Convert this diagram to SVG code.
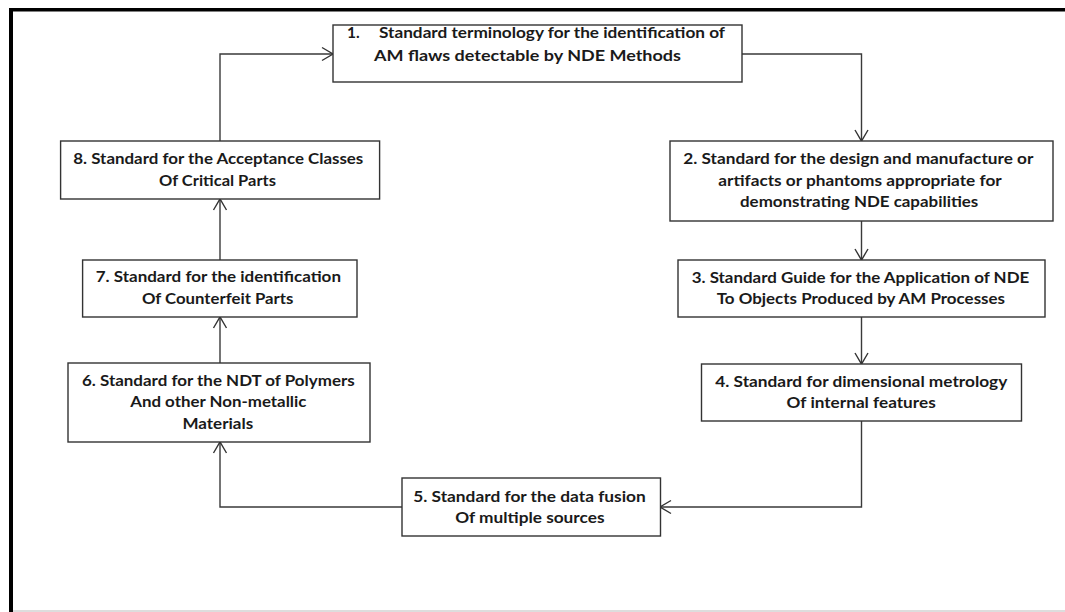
<svg xmlns="http://www.w3.org/2000/svg" width="1065" height="612" viewBox="0 0 1065 612">
<style>
.box{fill:#fff;stroke:#333;stroke-width:1.4}
.t{font-family:Lato,"Liberation Sans",sans-serif;font-weight:bold;font-size:15.5px;fill:#1a1a1a}
.c{fill:none;stroke:#3a3a3a;stroke-width:1.4}
</style>
<defs>
<marker id="ah" markerUnits="userSpaceOnUse" markerWidth="16" markerHeight="16" viewBox="-12 -8 14 16" refX="0" refY="0" orient="auto">
<path d="M-11,-6.5 L0,0 L-11,6.5" fill="none" stroke="#333" stroke-width="1.4"/>
</marker>
</defs>
<rect width="1065" height="612" fill="#fff"/>
<g id="frame">
<line x1="9" y1="9.8" x2="1065" y2="9.8" stroke="#000" stroke-width="3.6"/>
<line x1="11" y1="8" x2="11" y2="612" stroke="#000" stroke-width="4"/>
<line x1="13" y1="611" x2="1065" y2="611" stroke="#bbb" stroke-width="1.2"/>
</g>
<g id="connectors">
<path class="c" d="M220,141 V54 H333" marker-end="url(#ah)"/>
<path class="c" d="M742,54 H861.5 V141" marker-end="url(#ah)"/>
<path class="c" d="M861.5,221 V260" marker-end="url(#ah)"/>
<path class="c" d="M861.5,317 V364" marker-end="url(#ah)"/>
<path class="c" d="M861.5,421 V507 H660" marker-end="url(#ah)"/>
<path class="c" d="M402,507 H220 V442" marker-end="url(#ah)"/>
<path class="c" d="M220,363 V317" marker-end="url(#ah)"/>
<path class="c" d="M220,260 V199" marker-end="url(#ah)"/>
</g>
<g id="n1">
<rect class="box" x="333" y="25" width="409" height="57"/>
<text class="t"><tspan x="347" y="38">1.</tspan><tspan x="379" y="38" textLength="346" lengthAdjust="spacingAndGlyphs">Standard terminology for the identification of</tspan><tspan x="374" y="60.5" textLength="307" lengthAdjust="spacingAndGlyphs">AM flaws detectable by NDE Methods</tspan></text>
</g>
<g id="n2">
<rect class="box" x="670" y="141" width="383" height="80"/>
<text class="t"><tspan x="683.3" y="164.3" textLength="350" lengthAdjust="spacingAndGlyphs">2. Standard for the design and manufacture or</tspan><tspan x="718.3" y="185.8" textLength="283.4" lengthAdjust="spacingAndGlyphs">artifacts or phantoms appropriate for</tspan><tspan x="740" y="207.3" textLength="238.3" lengthAdjust="spacingAndGlyphs">demonstrating NDE capabilities</tspan></text>
</g>
<g id="n3">
<rect class="box" x="678" y="260" width="367" height="57"/>
<text class="t"><tspan x="691.7" y="282.7" textLength="337.6" lengthAdjust="spacingAndGlyphs">3. Standard Guide for the Application of NDE</tspan><tspan x="716.7" y="304.3" textLength="288.3" lengthAdjust="spacingAndGlyphs">To Objects Produced by AM Processes</tspan></text>
</g>
<g id="n4">
<rect class="box" x="701.5" y="364" width="320" height="57"/>
<text class="t"><tspan x="715.3" y="386.7" textLength="292" lengthAdjust="spacingAndGlyphs">4. Standard for dimensional metrology</tspan><tspan x="786.6" y="408.3" textLength="149.1" lengthAdjust="spacingAndGlyphs">Of internal features</tspan></text>
</g>
<g id="n5">
<rect class="box" x="402" y="478" width="258.5" height="58"/>
<text class="t"><tspan x="413.2" y="501.7" textLength="232.6" lengthAdjust="spacingAndGlyphs">5. Standard for the data fusion</tspan><tspan x="455.2" y="523.3" textLength="149.3" lengthAdjust="spacingAndGlyphs">Of multiple sources</tspan></text>
</g>
<g id="n6">
<rect class="box" x="68" y="363" width="302" height="79"/>
<text class="t"><tspan x="82" y="385.7" textLength="272.7" lengthAdjust="spacingAndGlyphs">6. Standard for the NDT of Polymers</tspan><tspan x="130.2" y="407.3" textLength="176.3" lengthAdjust="spacingAndGlyphs">And other Non-metallic</tspan><tspan x="182.5" y="429.3" textLength="70.6" lengthAdjust="spacingAndGlyphs">Materials</tspan></text>
</g>
<g id="n7">
<rect class="box" x="82.6" y="260" width="274.4" height="57"/>
<text class="t"><tspan x="95.7" y="282.3" textLength="245.3" lengthAdjust="spacingAndGlyphs">7. Standard for the identification</tspan><tspan x="141.9" y="304.3" textLength="151.5" lengthAdjust="spacingAndGlyphs">Of Counterfeit Parts</tspan></text>
</g>
<g id="n8">
<rect class="box" x="60.6" y="141" width="319" height="58"/>
<text class="t"><tspan x="73.3" y="164" textLength="290" lengthAdjust="spacingAndGlyphs">8. Standard for the Acceptance Classes</tspan><tspan x="159" y="186" textLength="117" lengthAdjust="spacingAndGlyphs">Of Critical  Parts</tspan></text>
</g>
</svg>
